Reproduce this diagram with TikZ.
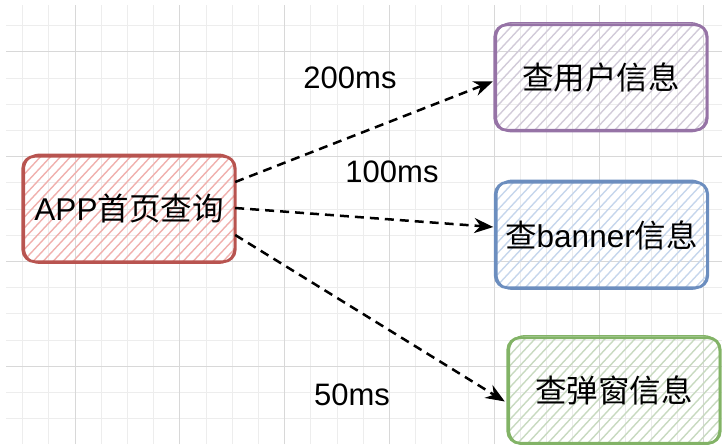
\documentclass[tikz,border=0pt]{standalone}
\usepackage{fontspec}
\setmainfont{Liberation Sans}
\newfontfamily\cjk{Noto Sans CJK SC}
\usetikzlibrary{arrows.meta,calc}
\definecolor{GridMinor}{HTML}{EDEDED}
\definecolor{GridMajor}{HTML}{D8D8D8}
\definecolor{appLine}{HTML}{B85450}
\definecolor{appHatch}{HTML}{F0B0AD}
\definecolor{userLine}{HTML}{9673A6}
\definecolor{userHatch}{HTML}{D2CBD9}
\definecolor{bannerLine}{HTML}{6C8EBF}
\definecolor{bannerHatch}{HTML}{C6D6EC}
\definecolor{popupLine}{HTML}{82B366}
\definecolor{popupHatch}{HTML}{C8DAC0}
\pgfdeclarelayer{grid}
\pgfdeclarelayer{hatch}
\pgfsetlayers{grid,hatch,main}

\begin{document}
\begin{tikzpicture}[x=1pt,y=1pt,
    box/.style={minimum width=212pt,minimum height=105pt,inner sep=0pt,font=\fontsize{31.5}{38}\selectfont},
    ms/.style={font=\fontsize{31}{37}\selectfont},
    call/.style={-{Stealth[length=19pt,width=15pt]},line width=2.5pt,dash pattern=on 9pt off 6pt}]
        \useasboundingbox (0,0) rectangle (722,444);
        \begin{pgfonlayer}{grid}
          \foreach \i in {-2,...,24}
            \draw[GridMinor,line width=1pt] (75+26.2*\i,0)--(75+26.2*\i,439);
          \foreach \j in {-1,...,15}
            \draw[GridMinor,line width=1pt] (6,392-26.2*\j)--(722,392-26.2*\j);
          \foreach \i in {0,...,6}
            \draw[GridMajor,line width=1pt] (75+104.8*\i,0)--(75+104.8*\i,439);
          \foreach \j in {0,...,3}
            \draw[GridMajor,line width=1pt] (6,392-104.8*\j)--(722,392-104.8*\j);
        \end{pgfonlayer}
        % boxes
        \node[box] (app) at (129,235) {APP{\cjk 首页查询}};
        \node[box] (user) at (601,366.5) {\cjk 查用户信息};
        \node[box] (banner) at (601.5,209) {{\cjk 查}banner{\cjk 信息}};
        \node[box] (popup) at (614,53.5) {\cjk 查弹窗信息};
        \foreach \nm in {app,user,banner,popup}{
          \begin{pgfonlayer}{hatch}
            \begin{scope}
              \clip[rounded corners=12pt] (\nm.south west) rectangle (\nm.north east);
              \foreach \k in {-110,-100,...,220}
                \draw[\nm Hatch,line width=1.4pt] ($(\nm.south west)+(\k,0)$)--++(108,116);
            \end{scope}
          \end{pgfonlayer}
          \draw[\nm Line,line width=2.8pt,rounded corners=12pt] (\nm.south west) rectangle (\nm.north east);
          \draw[\nm Line,line width=1.4pt,rounded corners=15pt] ([shift={(1.5,-1.5)}]\nm.south west) rectangle ([shift={(-1,2)}]\nm.north east);
        }
        % calls
        \draw[call] ([yshift=27pt]app.east)--([xshift=-2pt,yshift=-4pt]user.west);
        \draw[call] ([yshift=1pt]app.east)--([xshift=-2pt,yshift=8pt]banner.west);
        \draw[call] ([yshift=-26pt]app.east)--([xshift=-3pt,yshift=-11pt]popup.west);
        \node[ms] (t200) at (350,366) {200ms};
        \node[ms] (t100) at (392,272) {100ms};
        \node[ms] (t50) at (352,49) {50ms};
      \end{tikzpicture}
\end{document}
